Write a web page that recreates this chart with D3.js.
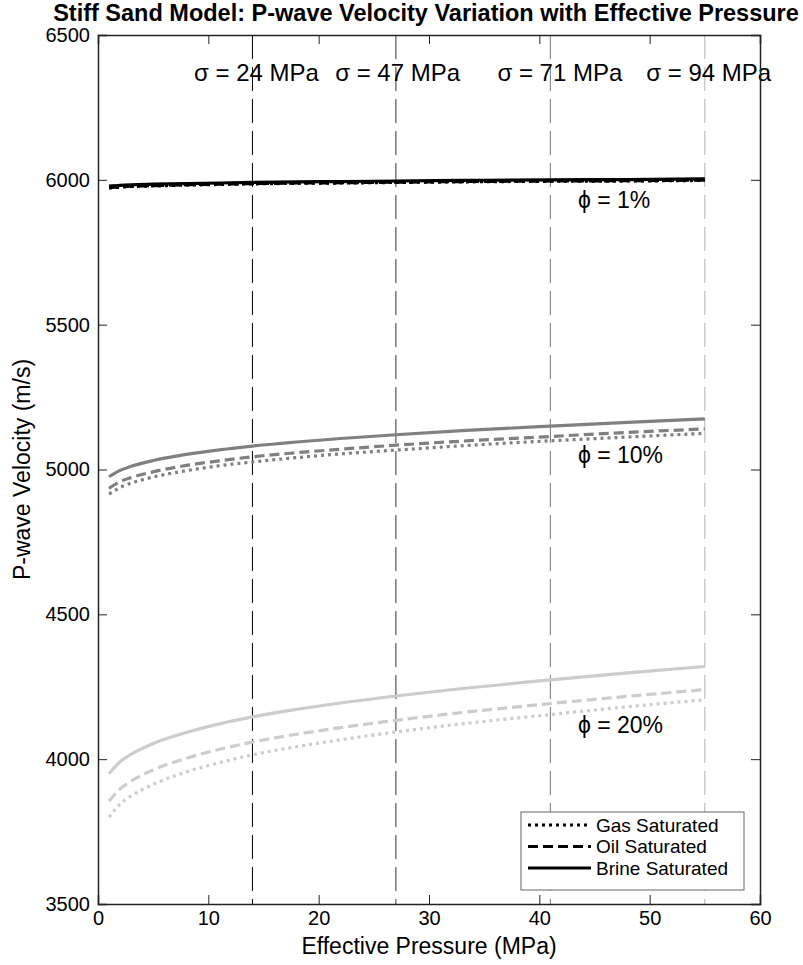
<!DOCTYPE html>
<html>
<head>
<meta charset="utf-8">
<script src="https://cdn.jsdelivr.net/npm/d3@7"></script>
<style>
  html, body { margin: 0; padding: 0; background: #fff; }
  svg { display: block; font-family: "Liberation Sans", Arial, Helvetica, sans-serif; }
</style>
</head>
<body>
<svg id="chart" width="803" height="965"></svg>
<script>
// Effective pressure samples (MPa)
const pressure = [1, 2, 3, 5, 8, 11, 14, 18, 22, 27, 33, 41, 48, 55];

// P-wave velocity (m/s) for each porosity and pore fluid
const gas1   = [5972, 5975, 5977, 5979, 5982, 5984, 5986, 5988, 5989, 5991, 5993, 5995, 5996, 5998];
const oil1   = [5973, 5976, 5978, 5980, 5983, 5985, 5987, 5989, 5990, 5992, 5994, 5996, 5997, 5999];
const brine1 = [5978, 5981, 5983, 5985, 5987, 5989, 5991, 5993, 5994, 5996, 5998, 6000, 6001, 6003];

const gas10   = [4915, 4938, 4953, 4974, 4996, 5013, 5026, 5041, 5054, 5067, 5082, 5099, 5112, 5125];
const oil10   = [4935, 4958, 4972, 4992, 5014, 5030, 5044, 5058, 5070, 5084, 5098, 5114, 5128, 5140];
const brine10 = [4975, 4997, 5011, 5031, 5052, 5068, 5081, 5095, 5107, 5120, 5134, 5150, 5163, 5175];

const gas20   = [3800, 3845, 3873, 3913, 3956, 3988, 4015, 4043, 4067, 4094, 4122, 4154, 4181, 4205];
const oil20   = [3855, 3897, 3924, 3963, 4003, 4034, 4059, 4086, 4109, 4134, 4161, 4192, 4217, 4240];
const brine20 = [3950, 3991, 4017, 4054, 4092, 4122, 4146, 4172, 4194, 4218, 4244, 4274, 4298, 4320];

// Depth markers: effective pressure of each vertical line and its overburden label
const markerPressure = [14, 27, 41, 55];
const markerLabels = ["σ = 24 MPa", "σ = 47 MPa", "σ = 71 MPa", "σ = 94 MPa"];
const markerLabelStart = [8.7, 21.5, 36.2, 49.7];
const markerColors = ["#000000", "#333333", "#777777", "#b0b0b0"];

// Porosity groups
const porosityLabels = ["ϕ = 1%", "ϕ = 10%", "ϕ = 20%"];
const porosityColors = ["#000000", "#808080", "#cccccc"];
const porosityLabelAt = [[43.5, 5930], [43.5, 5050], [43.5, 4118]];

const fluidNames = ["Gas Saturated", "Oil Saturated", "Brine Saturated"];
const fluidDash = ["3,4", "10,5", null];

const xTicks = [0, 10, 20, 30, 40, 50, 60];
const yTicks = [3500, 4000, 4500, 5000, 5500, 6000, 6500];

const series = [
  [gas1, oil1, brine1],
  [gas10, oil10, brine10],
  [gas20, oil20, brine20]
];

const svg = d3.select("#chart");
const margin = { left: 98, right: 43, top: 35, bottom: 61 };
const W = 803, H = 965;

const x = d3.scaleLinear().domain([0, 60]).range([margin.left, W - margin.right]);
const y = d3.scaleLinear().domain([3500, 6500]).range([H - margin.bottom, margin.top]);

// Title
svg.append("text")
  .attr("x", 426)
  .attr("y", 21)
  .attr("text-anchor", "middle")
  .attr("font-size", 23.5)
  .attr("font-weight", "bold")
  .text("Stiff Sand Model: P-wave Velocity Variation with Effective Pressure");

// Vertical depth markers
markerPressure.forEach((p, i) => {
  svg.append("line")
    .attr("x1", x(p)).attr("x2", x(p))
    .attr("y1", y(6500)).attr("y2", y(3500))
    .attr("stroke", markerColors[i])
    .attr("stroke-width", 1)
    .attr("stroke-dasharray", "24,8");
  svg.append("text")
    .attr("x", x(markerLabelStart[i]))
    .attr("y", y(6370))
    .attr("dy", "0.35em")
    .attr("font-size", 24)
    .text(markerLabels[i]);
});

// Velocity curves
const line = d3.line()
  .x((d, i) => x(pressure[i]))
  .y(d => y(d))
  .curve(d3.curveMonotoneX);

series.forEach((group, gi) => {
  group.forEach((vals, fi) => {
    svg.append("path")
      .datum(vals)
      .attr("d", line)
      .attr("fill", "none")
      .attr("stroke", porosityColors[gi])
      .attr("stroke-width", 3.2)
      .attr("stroke-dasharray", fluidDash[fi]);
  });
  svg.append("text")
    .attr("x", x(porosityLabelAt[gi][0]))
    .attr("y", y(porosityLabelAt[gi][1]))
    .attr("dy", "0.35em")
    .attr("font-size", 23)
    .text(porosityLabels[gi]);
});

// Axes with inward ticks on all four sides
const tickLen = 9;
const fmt = d3.format("d");
const gx = svg.append("g").attr("transform", `translate(0,${y(3500)})`)
  .call(d3.axisBottom(x).tickValues(xTicks).tickSize(-tickLen).tickPadding(7).tickFormat(fmt));
const gxTop = svg.append("g").attr("transform", `translate(0,${y(6500)})`)
  .call(d3.axisTop(x).tickValues(xTicks).tickSize(-tickLen).tickFormat(""));
const gy = svg.append("g").attr("transform", `translate(${x(0)},0)`)
  .call(d3.axisLeft(y).tickValues(yTicks).tickSize(-tickLen).tickPadding(8).tickFormat(fmt));
const gyRight = svg.append("g").attr("transform", `translate(${x(60)},0)`)
  .call(d3.axisRight(y).tickValues(yTicks).tickSize(-tickLen).tickFormat(""));

[gx, gxTop, gy, gyRight].forEach(g => {
  g.select(".domain").attr("stroke", "#222").attr("stroke-width", 1.5);
  g.selectAll(".tick line").attr("stroke", "#222");
  g.selectAll("text").attr("font-size", 20).attr("fill", "#000")
    .style("font-family", "Liberation Sans, Arial, sans-serif");
});

// Axis titles
svg.append("text")
  .attr("x", (x(0) + x(60)) / 2)
  .attr("y", 954)
  .attr("text-anchor", "middle")
  .attr("font-size", 23)
  .text("Effective Pressure (MPa)");

svg.append("text")
  .attr("transform", `translate(30,${(y(3500) + y(6500)) / 2}) rotate(-90)`)
  .attr("text-anchor", "middle")
  .attr("font-size", 23)
  .text("P-wave Velocity (m/s)");

// Legend
const lg = svg.append("g");
lg.append("rect")
  .attr("x", 521).attr("y", 812).attr("width", 223).attr("height", 78)
  .attr("fill", "#fff").attr("stroke", "#666").attr("stroke-width", 1);
fluidNames.forEach((name, i) => {
  const ly = 825 + i * 21.5;
  lg.append("line")
    .attr("x1", 528).attr("x2", 591)
    .attr("y1", ly).attr("y2", ly)
    .attr("stroke", "#000").attr("stroke-width", 3)
    .attr("stroke-dasharray", fluidDash[i]);
  lg.append("text")
    .attr("x", 596).attr("y", ly).attr("dy", "0.35em")
    .attr("font-size", 19)
    .text(name);
});
</script>
</body>
</html>
